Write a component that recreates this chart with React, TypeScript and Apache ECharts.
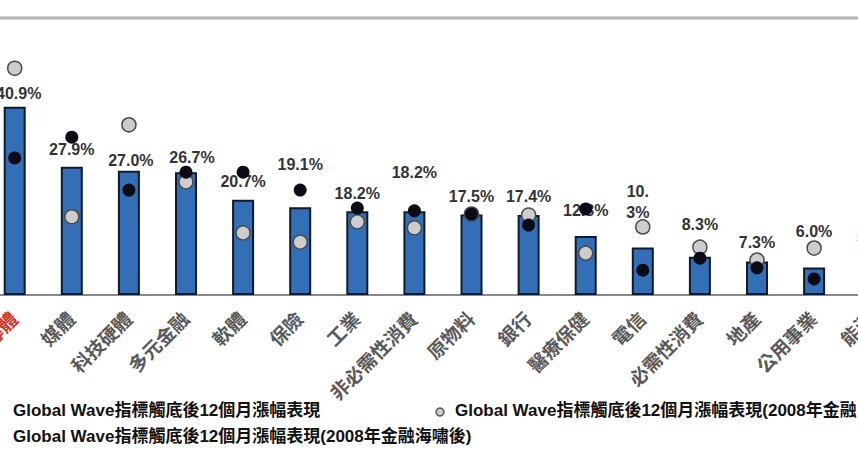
import React, { useEffect, useRef } from "react";
import * as echarts from "echarts";

// ---- data ----
const categories = [
  "半導體", "媒體", "科技硬體", "多元金融", "軟體", "保險", "工業", "非必需性消費",
  "原物料", "銀行", "醫療保健", "電信", "必需性消費", "地產", "公用事業", "能源",
];
const overallReturn = [40.9, 27.9, 27.0, 26.7, 20.7, 19.1, 18.2, 18.2, 17.5, 17.4, 12.8, 10.3, 8.3, 7.3, 6.0, 5.5];
const preCrisisReturn = [49.3, 17.0, 37.0, 24.6, 13.5, 11.5, 15.9, 14.6, 17.6, 17.4, 9.1, 14.8, 10.4, 7.6, 10.2, null];
const postCrisisReturn = [29.8, 34.3, 22.8, 26.7, 26.7, 22.8, 18.9, 18.3, 17.6, 15.2, 18.7, 5.4, 8.0, 5.9, 3.5, null];
const legendOverall = "Global Wave指標觸底後12個月漲幅表現";
const legendPre = "Global Wave指標觸底後12個月漲幅表現(2008年金融";
const legendPost = "Global Wave指標觸底後12個月漲幅表現(2008年金融海嘯後)";
const wrappedLabelIndex = [11];

// ---- label layout (px above bar top to label centre, horizontal shift) ----
const labelLift = [13, 17, 10, 15, 18, 43, 18, 39, 18, 18, 26, 46, 32, 19, 36, 32];
const labelShiftX = [4, 0, 2, 6, 0, 0, 0, 0, 0, 0, 0, -5, 0, 0, 0, 4];

const FONT = "'Liberation Sans', 'Noto Sans CJK TC', sans-serif";

export default function App() {
  const ref = useRef<HTMLDivElement>(null);
  useEffect(() => {
    if (!ref.current) return;
    const chart = echarts.init(ref.current, null, { renderer: "svg" });
    const barData = overallReturn.map((v, i) => {
      const wrapped = wrappedLabelIndex.includes(i);
      const lh = wrapped ? 21 : 16;
      const lines = wrapped ? 2 : 1;
      return {
        value: v,
        label: {
          distance: labelLift[i] - (lh * lines) / 2,
          offset: [labelShiftX[i], 0],
          lineHeight: lh,
        },
      };
    });
    chart.setOption({
      animation: false,
      grid: {
        left: -13.85,
        right: -41.75,
        top: 19,
        bottom: 157,
        containLabel: false,
        outerBoundsMode: "none",
      },
      xAxis: {
        type: "category",
        data: categories,
        axisLine: { lineStyle: { color: "#8a8a8a", width: 2 } },
        axisTick: { alignWithLabel: false, length: 4, lineStyle: { color: "#8a8a8a" } },
        axisLabel: {
          rotate: 45,
          interval: 0,
          margin: 21,
          fontSize: 19,
          fontWeight: "bold",
          fontFamily: FONT,
          color: (_v: string, i: number) => (i === 0 ? "#d0302a" : "#595959"),
        },
      },
      yAxis: { type: "value", min: 0, max: 60, show: false, splitLine: { show: false } },
      graphic: [
        { type: "line", shape: { x1: 0, y1: 18, x2: 858, y2: 18 }, style: { stroke: "#b4b4b4", lineWidth: 3 } },
        {
          type: "text", left: 13, top: 402,
          style: { text: legendOverall, fontSize: 17, fontWeight: "bold", fontFamily: FONT, fill: "#111" },
        },
        { type: "circle", shape: { cx: 440, cy: 412, r: 4 }, style: { fill: "#cfcfcf", stroke: "#555", lineWidth: 1.5 } },
        {
          type: "text", left: 455, top: 402,
          style: { text: legendPre, fontSize: 17, fontWeight: "bold", fontFamily: FONT, fill: "#111" },
        },
        {
          type: "text", left: 13, top: 428,
          style: { text: legendPost, fontSize: 17, fontWeight: "bold", fontFamily: FONT, fill: "#111" },
        },
      ],
      series: [
        {
          type: "bar",
          data: barData,
          barWidth: 22,
          itemStyle: { color: "#336fb6", borderColor: "#111a2a", borderWidth: 2 },
          label: {
            show: true,
            position: "top",
            fontSize: 16,
            fontWeight: "bold",
            fontFamily: FONT,
            color: "#333333",
            formatter: (p: any) => {
              const s = p.value.toFixed(1);
              return wrappedLabelIndex.includes(p.dataIndex) ? s.replace(".", ".\n") + "%" : s + "%";
            },
          },
        },
        {
          type: "scatter",
          data: preCrisisReturn,
          symbol: "circle",
          symbolSize: 14,
          itemStyle: { color: "#cdcdcd", borderColor: "#4a4a4a", borderWidth: 1.5, opacity: 1 },
          z: 3,
        },
        {
          type: "scatter",
          data: postCrisisReturn,
          symbol: "circle",
          symbolSize: 13,
          itemStyle: { color: "#0b0b16", opacity: 1 },
          z: 4,
        },
      ],
    });
    return () => chart.dispose();
  }, []);
  return (
    <div
      ref={ref}
      style={{ position: "fixed", left: 0, top: 0, width: 858, height: 452, background: "#ffffff" }}
    />
  );
}
